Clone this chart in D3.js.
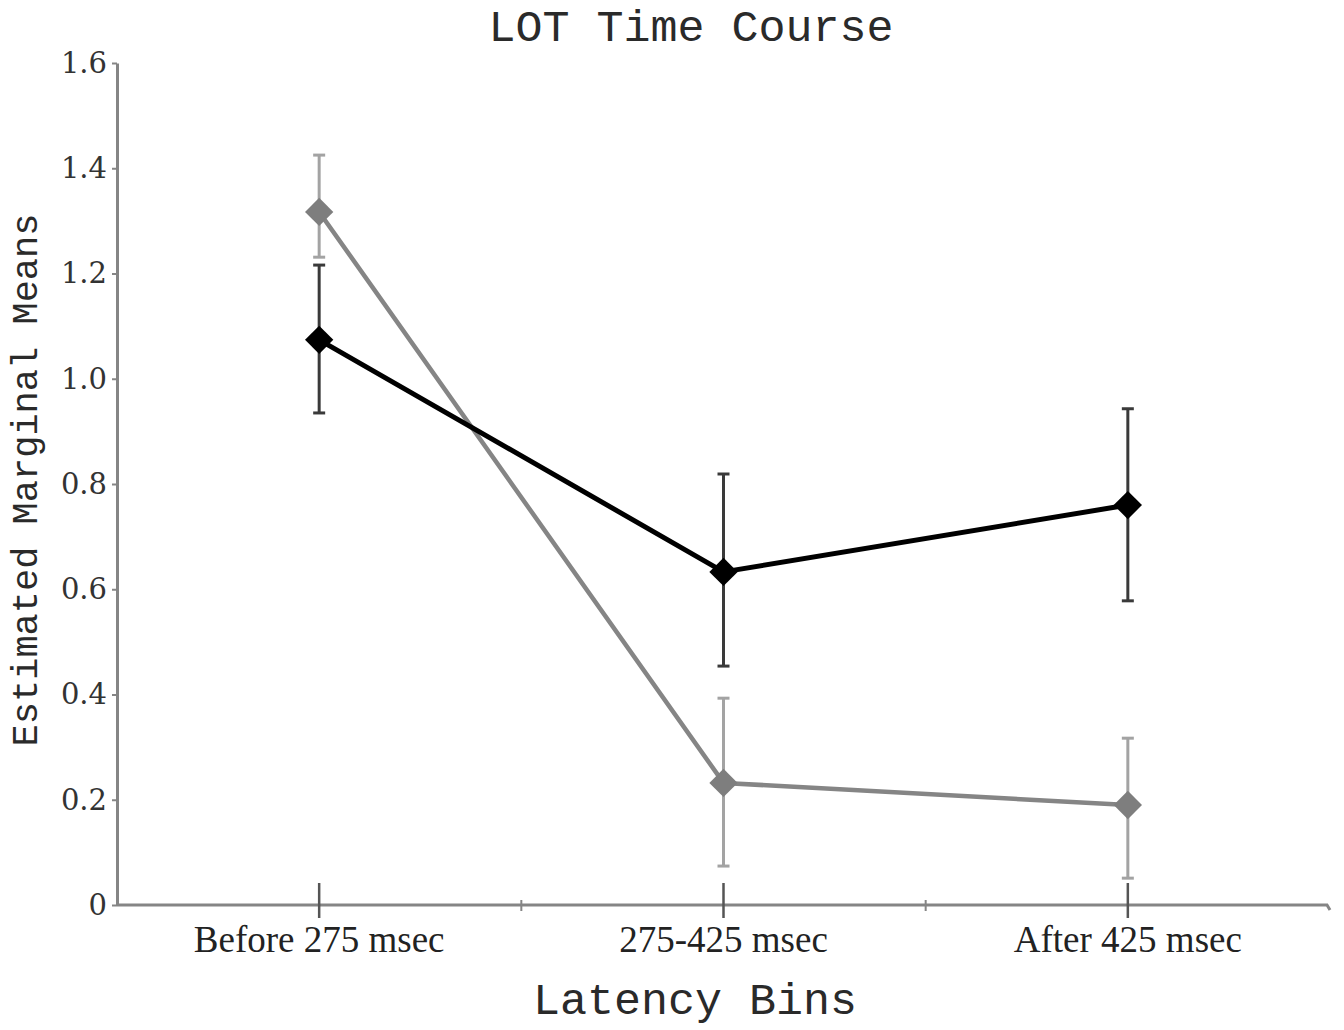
<!DOCTYPE html>
<html>
<head>
<meta charset="utf-8">
<script src="https://cdn.jsdelivr.net/npm/d3@7"></script>
<style>
  html, body { margin: 0; padding: 0; background: #fff; }
  svg { display: block; }
</style>
</head>
<body>
<svg id="chart" width="1344" height="1030"></svg>
<script>
// ---- Data ----
const categories = ["Before 275 msec", "275-425 msec", "After 425 msec"];
const blackMeans = [1.074, 0.633, 0.760];
const blackUpper = [1.216, 0.819, 0.943];
const blackLower = [0.935, 0.454, 0.578];
const grayMeans  = [1.317, 0.232, 0.190];
const grayUpper  = [1.425, 0.393, 0.317];
const grayLower  = [1.231, 0.074, 0.051];
const yTickValues = [0, 0.2, 0.4, 0.6, 0.8, 1.0, 1.2, 1.4, 1.6];
const yTickLabels = ["0", "0.2", "0.4", "0.6", "0.8", "1.0", "1.2", "1.4", "1.6"];
const titleText = "LOT Time Course";
const xTitle = "Latency Bins";
const yTitle = "Estimated Marginal Means";

(function () {
// ---- Layout ----
const svg = d3.select("#chart");
const plotLeft = 117, plotRight = 1330, plotTop = 63, plotBottom = 905;
const axisColor = "#858585";

const x = d3.scaleBand().domain(categories).range([plotLeft, plotRight]).padding(0);
const y = d3.scaleLinear().domain([0, 1.6]).range([plotBottom, plotTop]);
const cx = c => x(c) + x.bandwidth() / 2;

// Title
svg.append("text")
  .attr("x", 691).attr("y", 41)
  .attr("text-anchor", "middle")
  .attr("font-family", "'Liberation Mono', monospace")
  .attr("font-size", 45)
  .attr("fill", "#2a2a2a")
  .text(titleText);

// Y axis
const yAxis = svg.append("g")
  .attr("transform", `translate(${plotLeft},0)`)
  .call(d3.axisLeft(y).tickValues(yTickValues)
    .tickFormat((d, i) => yTickLabels[i])
    .tickSize(5).tickSizeOuter(0).tickPadding(5));
yAxis.select(".domain").attr("stroke", axisColor).attr("stroke-width", 3);
yAxis.selectAll(".tick line").attr("stroke", axisColor).attr("stroke-width", 2);
yAxis.selectAll(".tick text")
  .attr("font-family", "'DejaVu Serif', serif")
  .attr("font-size", 29)
  .attr("fill", "#333");

// X axis (labels)
const xAxis = svg.append("g")
  .attr("transform", `translate(0,${plotBottom})`)
  .call(d3.axisBottom(x).tickSize(0).tickSizeOuter(0).tickPadding(21));
xAxis.select(".domain").remove();
xAxis.selectAll(".tick text")
  .attr("font-family", "'Liberation Serif', 'Times New Roman', serif")
  .attr("font-size", 37)
  .attr("fill", "#222");

// x axis line with small hook at end
svg.append("path")
  .attr("d", d3.line()([[plotLeft, plotBottom], [plotRight - 3, plotBottom], [plotRight, plotBottom + 5]]))
  .attr("fill", "none").attr("stroke", axisColor).attr("stroke-width", 3);

// category ticks (crossing)
svg.selectAll("line.cattick").data(categories).join("line")
  .attr("class", "cattick")
  .attr("x1", d => cx(d)).attr("x2", d => cx(d))
  .attr("y1", plotBottom - 22).attr("y2", plotBottom + 13)
  .attr("stroke", "#555").attr("stroke-width", 2.5);

// band boundary ticks
svg.selectAll("line.bandtick").data(categories.slice(1)).join("line")
  .attr("class", "bandtick")
  .attr("x1", d => x(d)).attr("x2", d => x(d))
  .attr("y1", plotBottom - 5).attr("y2", plotBottom + 6)
  .attr("stroke", axisColor).attr("stroke-width", 2);

// Axis titles
svg.append("text")
  .attr("x", 695).attr("y", 1014)
  .attr("text-anchor", "middle")
  .attr("font-family", "'Liberation Mono', monospace")
  .attr("font-size", 45)
  .attr("fill", "#2a2a2a")
  .text(xTitle);

svg.append("text")
  .attr("transform", "translate(37,480) rotate(-90)")
  .attr("text-anchor", "middle")
  .attr("font-family", "'Liberation Mono', monospace")
  .attr("font-size", 37)
  .attr("fill", "#2a2a2a")
  .text(yTitle);

// ---- Series ----
function drawSeries(means, upper, lower, opt) {
  const g = svg.append("g");
  const pts = categories.map((c, i) => ({ c, m: means[i], u: upper[i], l: lower[i] }));
  g.selectAll("line.eb").data(pts).join("line")
    .attr("class", "eb")
    .attr("x1", d => cx(d.c)).attr("x2", d => cx(d.c))
    .attr("y1", d => y(d.u)).attr("y2", d => y(d.l))
    .attr("stroke", opt.ebColor).attr("stroke-width", 3);
  ["u", "l"].forEach(k => {
    g.selectAll("line.cap" + k).data(pts).join("line")
      .attr("class", "cap" + k)
      .attr("x1", d => cx(d.c) - 6).attr("x2", d => cx(d.c) + 6)
      .attr("y1", d => y(d[k])).attr("y2", d => y(d[k]))
      .attr("stroke", opt.ebColor).attr("stroke-width", 3);
  });
  g.append("path")
    .datum(pts)
    .attr("d", d3.line().x(d => cx(d.c)).y(d => y(d.m)))
    .attr("fill", "none")
    .attr("stroke", opt.lineColor)
    .attr("stroke-width", opt.lineWidth)
    .attr("stroke-linejoin", "round");
  const sym = d3.symbol(d3.symbolSquare, 400);
  g.selectAll("path.mk").data(pts).join("path")
    .attr("class", "mk")
    .attr("d", sym)
    .attr("transform", d => `translate(${cx(d.c)},${y(d.m)}) rotate(45)`)
    .attr("fill", opt.markerColor);
}

drawSeries(grayMeans, grayUpper, grayLower,
  { ebColor: "#a3a3a3", lineColor: "#858585", lineWidth: 4.5, markerColor: "#7e7e7e" });
drawSeries(blackMeans, blackUpper, blackLower,
  { ebColor: "#3a3a3a", lineColor: "#000", lineWidth: 5, markerColor: "#000" });
})();
</script>
</body>
</html>
